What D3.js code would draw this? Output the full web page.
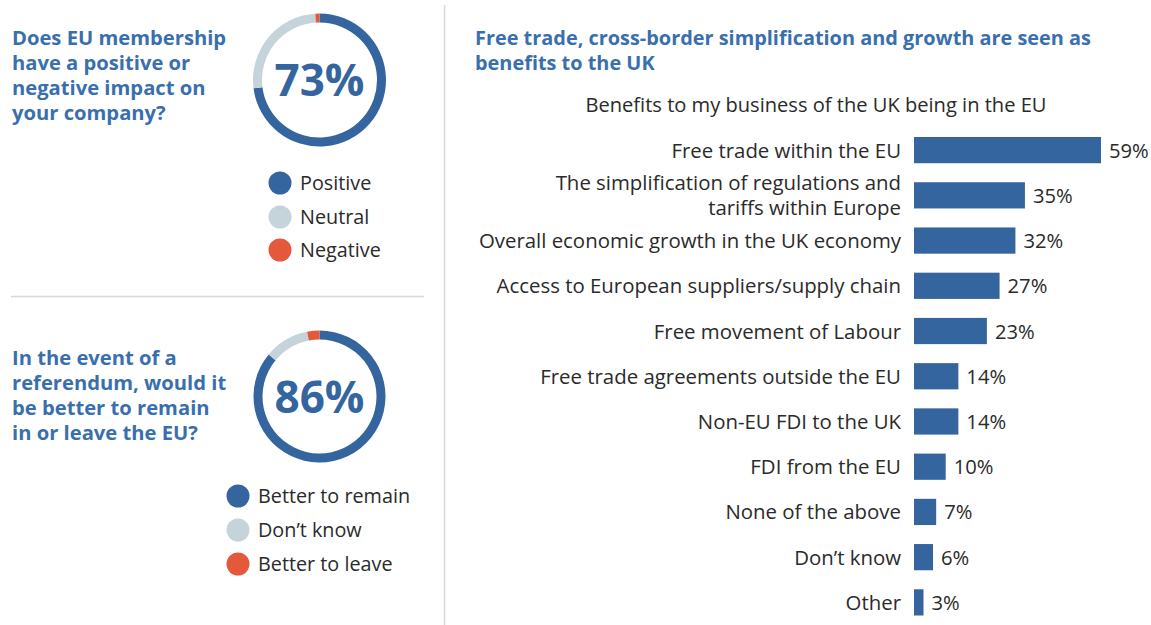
<!DOCTYPE html>
<html><head><meta charset="utf-8">
<script src="https://cdn.jsdelivr.net/npm/d3@7"></script>
<style>
body{margin:0;background:#fff;}
svg{display:block;}
text{font-family:"Open Sans","Noto Sans",sans-serif;}
</style></head>
<body>
<svg id="c" width="1151" height="625"></svg>
<script>
// ---- data ----
const q1Lines = ["Does EU membership","have a positive or","negative impact on","your company?"];
const q1Labels = ["Positive","Neutral","Negative"];
const q1Values = [73, 26, 1];
const q2Lines = ["In the event of a","referendum, would it","be better to remain","in or leave the EU?"];
const q2Labels = ["Better to remain","Don\u2019t know","Better to leave"];
const q2Values = [86, 11, 3];
const chartTitle = ["Free trade, cross-border simplification and growth are seen as","benefits to the UK"];
const chartSubtitle = "Benefits to my business of the UK being in the EU";
const categories = ["Free trade within the EU","The simplification of regulations and\ntariffs within Europe","Overall economic growth in the UK economy","Access to European suppliers/supply chain","Free movement of Labour","Free trade agreements outside the EU","Non-EU FDI to the UK","FDI from the EU","None of the above","Don\u2019t know","Other"];
const values = [59,35,32,27,23,14,14,10,7,6,3];

const BLUE="#35659f", GREY="#c5d3da", RED="#e4583b", TBLUE="#3a6fae", TXT="#2a2a2a";
const svg=d3.select("#c");

// dividers
svg.append("line").attr("x1",11).attr("x2",424).attr("y1",296.5).attr("y2",296.5).attr("stroke","#d8d8d8").attr("stroke-width",1.5);
svg.append("line").attr("x1",444.5).attr("x2",444.5).attr("y1",5).attr("y2",625).attr("stroke","#d8d8d8").attr("stroke-width",1.5);

function question(lines,x,y0){
  const t=svg.append("text").attr("x",x).attr("fill",TBLUE).attr("font-weight",700).attr("font-size",20.2);
  lines.forEach((l,i)=>t.append("tspan").attr("x",x).attr("y",y0+i*25).text(l));
}
question(q1Lines,12,45);
question(q2Lines,12,365);

const colors=d3.scaleOrdinal().domain([0,1,2]).range([BLUE,GREY,RED]);
function donut(vals,cx,cy,r,label){
  const pie=d3.pie().sort(null).value(d=>d);
  const arc=d3.arc().innerRadius(r-9).outerRadius(r);
  const g=svg.append("g").attr("transform",`translate(${cx},${cy})`);
  g.selectAll("path").data(pie(vals)).join("path").attr("d",arc).attr("fill",(d,i)=>colors(i));
  g.append("text").attr("text-anchor","middle").attr("y",16).attr("fill",BLUE).attr("font-weight",700).attr("font-size",44).text(label);
}
donut(q1Values,319.5,80,66.5,q1Values[0]+"%");
donut(q2Values,319.5,396.5,66,q2Values[0]+"%");

function legend(labels,cx,ys,tx){
  labels.forEach((l,i)=>{
    svg.append("circle").attr("cx",cx).attr("cy",ys[i]).attr("r",11.5).attr("fill",colors(i));
    svg.append("text").attr("x",tx).attr("y",ys[i]+7).attr("fill",TXT).attr("font-size",19.8).text(l);
  });
}
legend(q1Labels,280,[183,217,250],300);
legend(q2Labels,238,[496,530,564],258);

// bar chart
const tt=svg.append("text").attr("fill",TBLUE).attr("font-weight",700).attr("font-size",19.9);
chartTitle.forEach((l,i)=>tt.append("tspan").attr("x",475).attr("y",45+i*25).text(l));
svg.append("text").attr("x",816).attr("y",112).attr("text-anchor","middle").attr("fill",TXT).attr("font-size",20.1).text(chartSubtitle);

const x=d3.scaleLinear().domain([0,59]).range([914,1101]);
const y=d3.scaleBand().domain(categories).range([127.5,625]).paddingInner(0.42).paddingOuter(0.21);
const bars=svg.append("g");
bars.selectAll("rect").data(values).join("rect")
  .attr("x",x(0)).attr("y",(d,i)=>y(categories[i])).attr("width",d=>x(d)-x(0)).attr("height",y.bandwidth()).attr("fill",BLUE);
bars.selectAll("text.v").data(values).join("text").attr("class","v")
  .attr("x",d=>x(d)+8).attr("y",(d,i)=>y(categories[i])+y.bandwidth()/2+7.5).attr("fill",TXT).attr("font-size",20.2).text(d=>d+"%");
categories.forEach((c,i)=>{
  const parts=c.split("\n");
  const cy=y(c)+y.bandwidth()/2;
  const t=svg.append("text").attr("text-anchor","end").attr("fill",TXT).attr("font-size",20.4);
  parts.forEach((p,j)=>t.append("tspan").attr("x",901).attr("y",cy+7.5+(j-(parts.length-1)/2)*25).text(p));
});
</script>
</body></html>
